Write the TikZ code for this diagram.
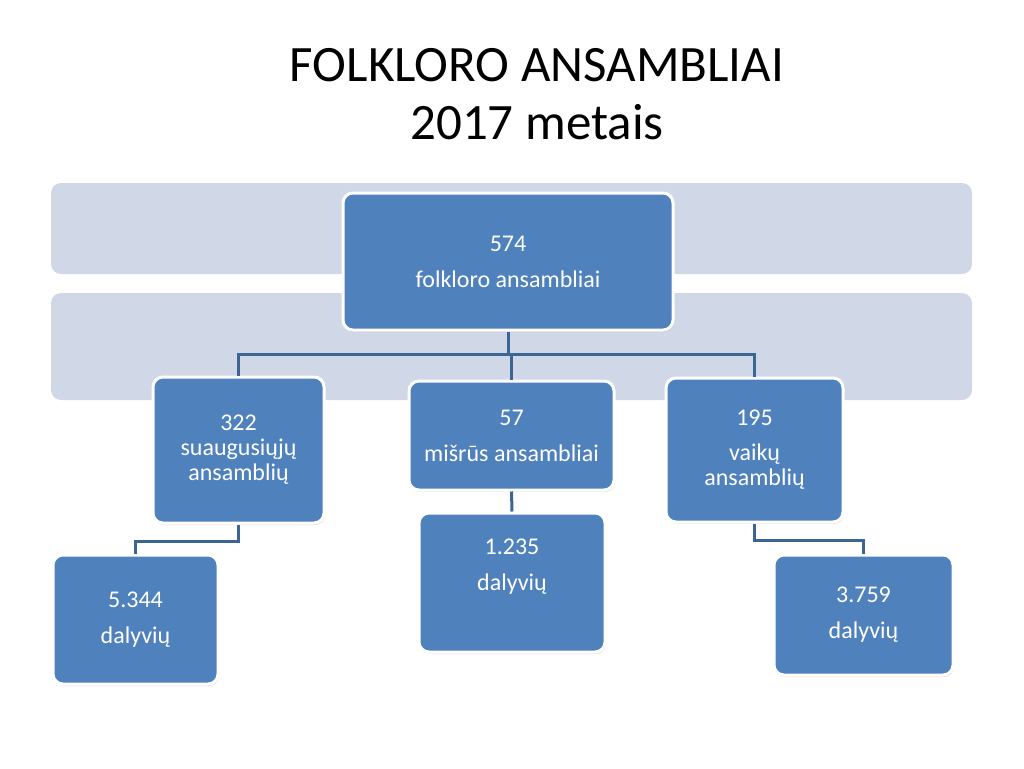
\documentclass[tikz,border=0pt]{standalone}
\usepackage{fontspec}
\setmainfont{Carlito}
\usetikzlibrary{shadows}
\definecolor{boxblue}{HTML}{4F81BD}
\definecolor{bandgray}{HTML}{D0D8E8}
\definecolor{linkblue}{HTML}{3C6494}
\begin{document}
\begin{tikzpicture}[x=1pt, y=-1pt,
		band/.style={fill=bandgray, rounded corners=10pt},
		box/.style={draw=white, line width=3pt, fill=boxblue, rounded corners=10pt, text=white, align=center,
			font=\fontsize{24}{25}\selectfont, drop shadow={opacity=0.25, shadow xshift=1pt, shadow yshift=-2pt}},
		link/.style={draw=linkblue, line width=3pt}]
				\useasboundingbox (0,0) rectangle (1024,768);
				\fill[band] (51,183) rectangle (972,274);
				\fill[band] (51,293) rectangle (972,400);
				\node[font=\fontsize{51}{58}\selectfont, align=center] (title) at (537,94) {FOLKLORO ANSAMBLIAI\\2017 metais};
				\node[box, minimum width=330, minimum height=137] (root) at (508,261.5) {574\\[11pt]folkloro ansambliai};
				\node[box, minimum width=171, minimum height=146] (adults) at (238.5,450) {322\\suaugusiųjų\\ansamblių};
				\node[box, minimum width=205, minimum height=109] (mixed) at (511.5,435.5) {57\\[11pt]mišrūs ansambliai};
				\node[box, minimum width=177, minimum height=144] (kids) at (754.5,450) {195\\[10pt]vaikų\\ansamblių};
				\node[box, minimum width=165, minimum height=129] (adultsN) at (135.5,619.5) {5.344\\[11pt]dalyvių};
				\node[box, minimum width=186, minimum height=139] (mixedN) at (512,582.5) {1.235\\[11pt]dalyvių\\[11pt]{}};
				\node[box, minimum width=179, minimum height=120] (kidsN) at (863.5,615) {3.759\\[11pt]dalyvių};
				\draw[link] (root.south) -- ++(0,23) coordinate (hub);
				\foreach \c in {adults, mixed, kids}
					\draw[link] (hub) -| (\c.north);
				\draw[link] (adults.south) -- ++(0,17) -| (adultsN.north);
				\draw[link] (kids.south) -- ++(0,17) -| (kidsN.north);
				\draw[link] (mixed.south) -- (mixedN.north);
			\end{tikzpicture}
\end{document}
